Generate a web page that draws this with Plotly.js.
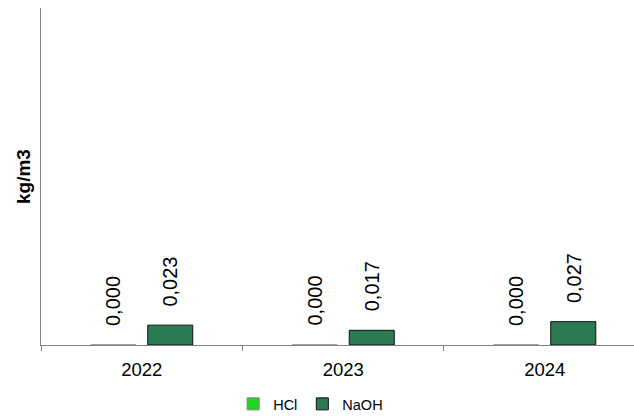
<!DOCTYPE html>
<html>
<head>
<meta charset="utf-8">
<script src="https://cdn.plot.ly/plotly-3.0.1.min.js"></script>
<style>html,body{margin:0;padding:0;background:#fff;}#chart{width:634px;height:416px;}</style>
</head>
<body>
<div id="chart"></div>
<script>
const categories = ["2022", "2023", "2024"];
const hclValues = [0.000, 0.000, 0.000];
const naohValues = [0.023, 0.017, 0.027];
const seriesNames = ["HCl", "NaOH"];
const yTitle = "kg/m3";

function fmt(v) { return v.toFixed(3).replace(".", ","); }

const fontFam = "Liberation Sans, Arial, sans-serif";

const traces = [
  {
    type: "bar", name: seriesNames[0], x: categories, y: hclValues,
    marker: { color: "#1ed61e", line: { color: "#808080", width: 1 } },
    hoverinfo: "skip"
  },
  {
    type: "bar", name: seriesNames[1], x: categories, y: naohValues,
    marker: { color: "#2a7b52", line: { color: "#111", width: 1 } },
    hoverinfo: "skip"
  }
];

const annos = [];
const shifts = [-28.7, 28.7];
const seriesVals = [hclValues, naohValues];
for (let s = 0; s < seriesVals.length; s++) {
  for (let i = 0; i < categories.length; i++) {
    annos.push({
      x: i, y: seriesVals[s][i], xref: "x", yref: "y",
      text: fmt(seriesVals[s][i]), showarrow: false, textangle: -90,
      xanchor: "center", yanchor: "bottom",
      xshift: shifts[s], yshift: 17,
      font: { family: fontFam, size: 20, color: "#000000" }
    });
  }
}

const layout = {
  width: 634, height: 416,
  margin: { l: 41, r: 0, t: 8, b: 71 },
  paper_bgcolor: "#fff", plot_bgcolor: "#fff",
  barmode: "group", bargap: 0.434, bargroupgap: 0.21,
  showlegend: true,
  legend: {
    orientation: "h", xref: "container", yref: "container",
    x: 0.49, xanchor: "center", y: 0.029, yanchor: "middle",
    font: { family: fontFam, size: 14.5, color: "#000" },
    itemwidth: 30, tracegroupgap: 0
  },
  xaxis: {
    type: "category", range: [-0.5, 2.443],
    showline: true, linecolor: "#808080", linewidth: 1,
    ticks: "outside", tickson: "boundaries", ticklen: 5, tickcolor: "#808080",
    ticklabelstandoff: 8,
    showgrid: false, zeroline: false,
    tickfont: { family: fontFam, size: 18.5, color: "#000" }
  },
  yaxis: {
    range: [0, 0.39], showline: true, linecolor: "#808080", linewidth: 1,
    showticklabels: false, ticks: "", showgrid: false, zeroline: false,
    title: { text: yTitle, standoff: 4, font: { family: fontFam, size: 19, color: "#000", weight: "bold" } }
  },
  annotations: annos
};

Plotly.newPlot("chart", traces, layout, { displayModeBar: false, staticPlot: true });
</script>
</body>
</html>
